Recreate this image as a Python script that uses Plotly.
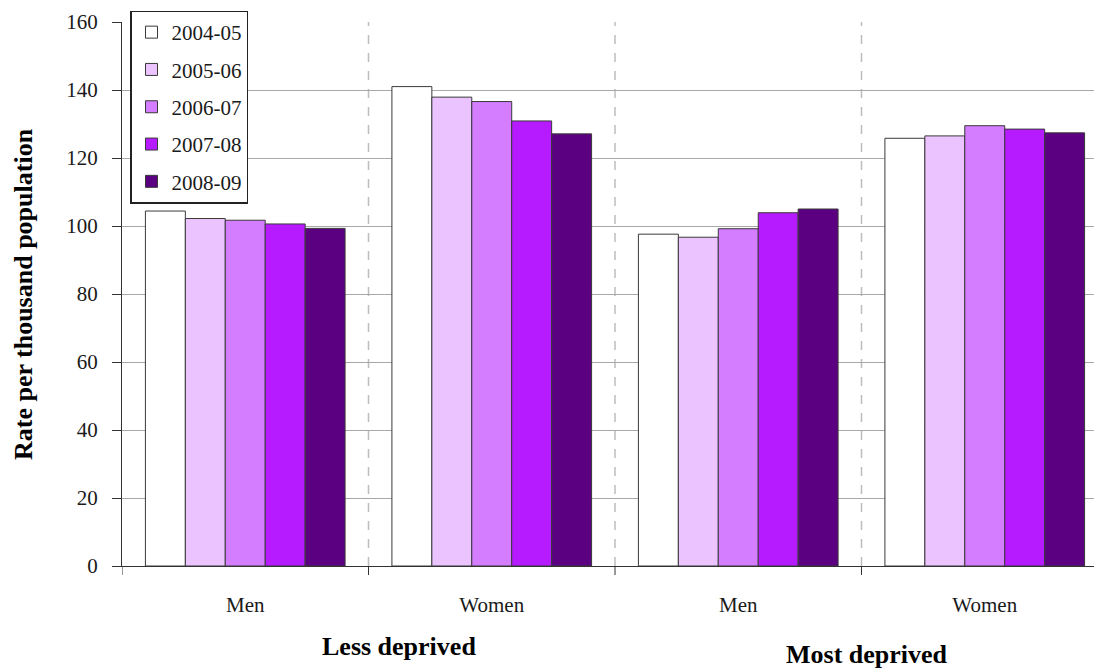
import plotly.graph_objects as go

categories = ["LD Men", "LD Women", "MD Men", "MD Women"]
tick_labels = ["Men", "Women", "Men", "Women"]
group_labels = ["Less deprived", "Most deprived"]
series_names = ["2004-05", "2005-06", "2006-07", "2007-08", "2008-09"]

v_2004_05 = [104.4, 141.0, 97.6, 125.8]
v_2005_06 = [102.2, 137.9, 96.7, 126.5]
v_2006_07 = [101.7, 136.6, 99.2, 129.5]
v_2007_08 = [100.6, 130.9, 103.9, 128.5]
v_2008_09 = [99.3, 127.1, 105.0, 127.4]

values = [v_2004_05, v_2005_06, v_2006_07, v_2007_08, v_2008_09]
colors = ["#FFFFFF", "#EAC3FF", "#D47DFF", "#B61BFF", "#5C0082"]

font_family = "Liberation Serif, DejaVu Serif, serif"
txt = "#1A1A1A"

# page body has an 8px margin; plot area target: x 122..1108, y 22..566
OFF = 8
ML, MT = 122 - OFF, 22 - OFF
MB = (668 + OFF) - 566
MR = (1102 + OFF) - 1108
PW = 1102 - ML - MR
PH = 668 - MT - MB


def px(x):
    return (x - 122) / PW


def py(y):
    return (566 - y) / PH


fig = go.Figure()
for name, vals, col in zip(series_names, values, colors):
    fig.add_trace(go.Bar(
        x=categories, y=vals, name=name, legendgroup=name,
        marker=dict(color=col, line=dict(color="#3A3A3A", width=1)),
    ))

# dashed separators between groups and tick marks below the axis
for xs in [0.5, 1.5, 2.5]:
    fig.add_shape(type="line", xref="x", yref="paper", x0=xs, x1=xs, y0=0, y1=1,
                  line=dict(color="#BDBDBD", width=1.5, dash="dash"), layer="below")
for xs in [-0.5, 0.5, 1.5, 2.5]:
    fig.add_shape(type="line", xref="x", yref="paper", x0=xs, x1=xs, y0=0, y1=-9 / PH,
                  line=dict(color="#333333", width=1))

fig.add_annotation(text="<b>" + group_labels[0] + "</b>", xref="paper", yref="paper",
                   x=px(399), y=py(646), showarrow=False, xanchor="center", yanchor="middle",
                   font=dict(family=font_family, size=26, color="#000000"))
fig.add_annotation(text="<b>" + group_labels[1] + "</b>", xref="paper", yref="paper",
                   x=px(867), y=py(654), showarrow=False, xanchor="center", yanchor="middle",
                   font=dict(family=font_family, size=26, color="#000000"))
fig.add_annotation(text="<b>Rate per thousand population</b>", xref="paper", yref="paper",
                   x=px(23), y=py(294), showarrow=False, textangle=-90,
                   xanchor="center", yanchor="middle",
                   font=dict(family=font_family, size=26, color="#000000"))

fig.update_layout(
    width=1102, height=668,
    margin=dict(l=ML, r=MR, t=MT, b=MB),
    paper_bgcolor="white", plot_bgcolor="white",
    barmode="group", bargap=0.19, bargroupgap=0,
    font=dict(family=font_family, size=21, color=txt),
    showlegend=True,
    legend=dict(
        x=px(130), y=1 + (22 - 10.5) / PH, xanchor="left", yanchor="top",
        bgcolor="white", bordercolor="#222222", borderwidth=1.5,
        font=dict(family=font_family, size=21, color=txt),
        tracegroupgap=7, traceorder="grouped",
    ),
    xaxis=dict(
        range=[-0.5, 3.5], tickmode="array", tickvals=categories, ticktext=tick_labels,
        showgrid=False, showline=True, linecolor="#333333", linewidth=1,
        ticks="", ticklabelstandoff=20,
        tickfont=dict(family=font_family, size=21, color=txt),
    ),
    yaxis=dict(
        range=[0, 160], dtick=20, showgrid=True, gridcolor="#A8A8A8", gridwidth=1,
        showline=True, linecolor="#333333", linewidth=1,
        ticks="outside", ticklen=9, tickcolor="#333333", ticklabelstandoff=10,
        tickfont=dict(family=font_family, size=21, color=txt),
        zeroline=False,
    ),
)

fig.write_html("out.html")
